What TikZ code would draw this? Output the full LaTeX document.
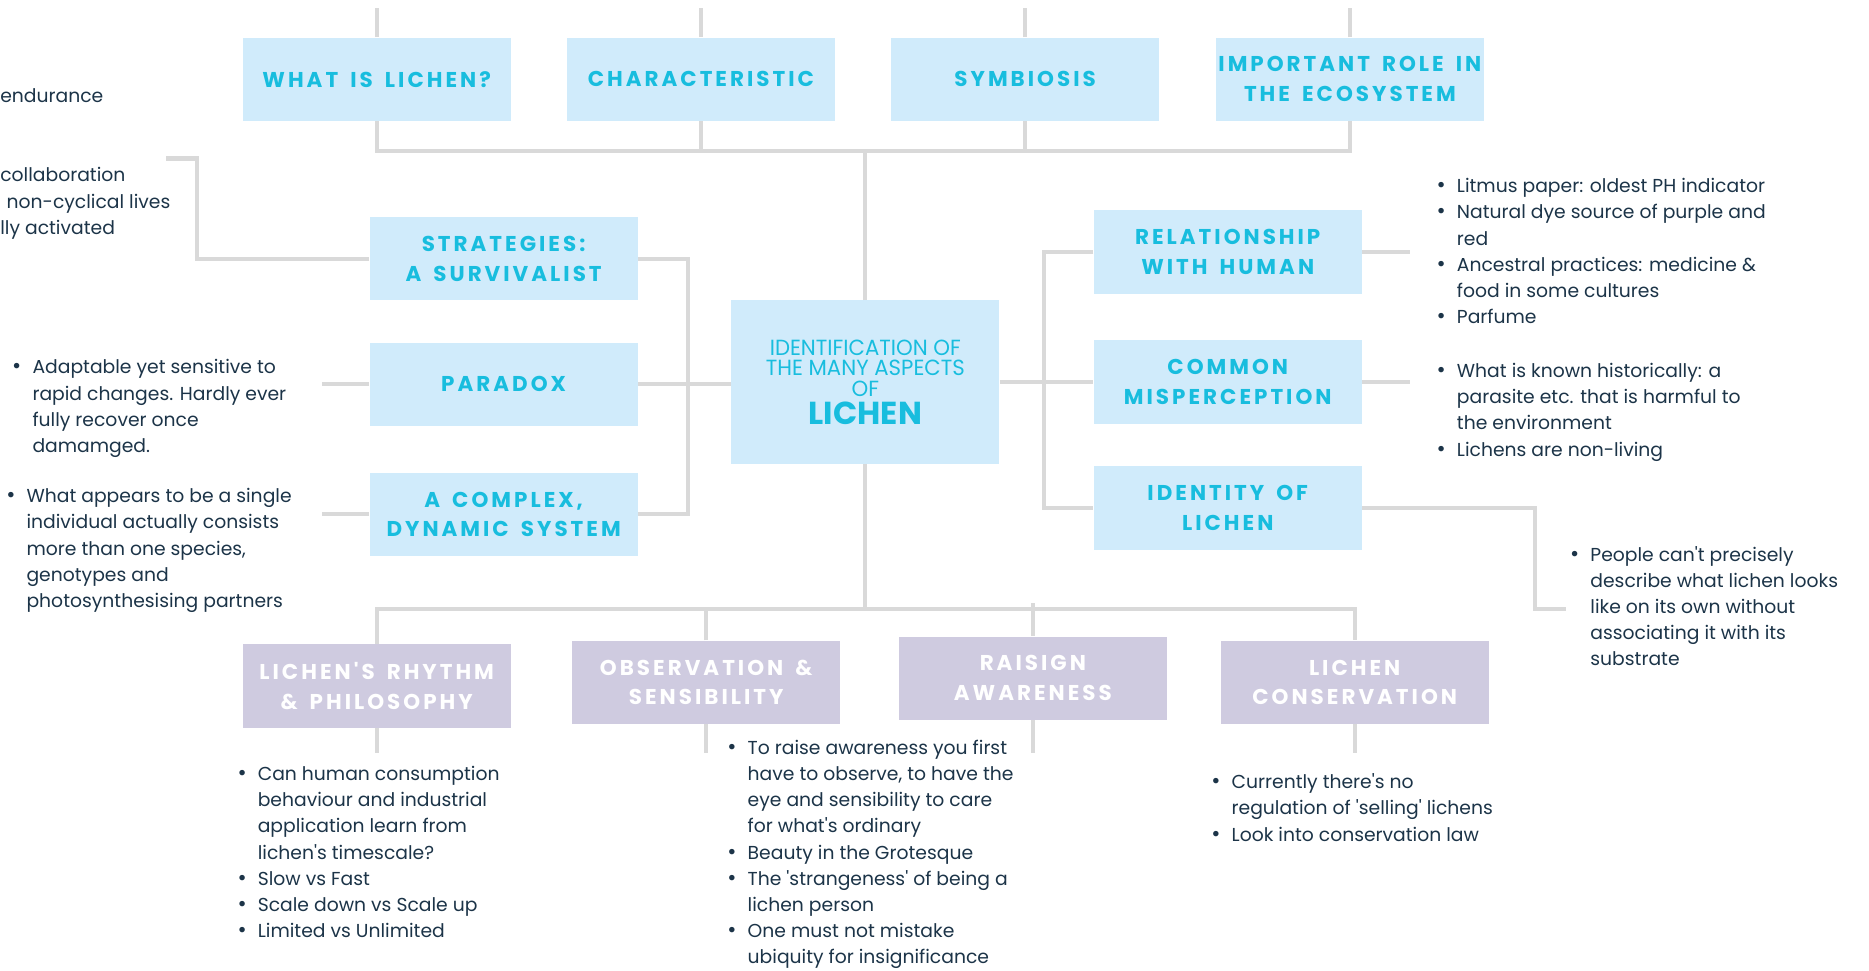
\documentclass[tikz,border=0pt]{standalone}
\usepackage{fontspec}
\newfontfamily\bodyfont{Poppins}
\newfontfamily\headfont{Poppins}[LetterSpace=14,WordSpace=1.6]
\newfontfamily\thinfont{Poppins}[FakeStretch=0.97]
\newcommand{\dotmark}{{\fontsize{14}{0}\selectfont\textbullet}}
\definecolor{boxblue}{RGB}{208,235,251}
\definecolor{boxlilac}{RGB}{207,203,224}
\definecolor{headcyan}{RGB}{24,189,222}
\definecolor{linegray}{RGB}{217,217,217}
\definecolor{notetext}{RGB}{28,52,72}

\begin{document}
\begin{tikzpicture}[x=0.75pt,y=-0.75pt,
    link/.style={draw=linegray,line width=2.6pt},
    topic/.style={minimum width=168.75pt,minimum height=52.5pt,inner sep=0pt,align=center,
      font=\headfont\bfseries\fontsize{13.5}{18.75}\selectfont},
    bluebox/.style={topic,fill=boxblue,text=headcyan},
    lilacbox/.style={topic,fill=boxlilac,text=white},
    note/.style={anchor=north west,inner sep=0pt,text=notetext,align=left,
      font=\bodyfont\fontsize{11.8}{16.5}\selectfont}]
    \useasboundingbox (0,0) rectangle (1568,814);
    \clip (0,0) rectangle (1568,814);

    \node[bluebox] (what) at (316,66.5) {WHAT IS LICHEN?};
    \node[bluebox] (charac) at (588,66.5) {CHARACTERISTIC};
    \node[bluebox] (symb) at (860,66.5) {SYMBIOSIS};
    \node[bluebox] (role) at (1132.5,66.5) {IMPORTANT ROLE IN\\THE ECOSYSTEM};

    \node[bluebox] (strat) at (422.5,217) {STRATEGIES:\\A SURVIVALIST};
    \node[bluebox] (paradox) at (422.5,322.5) {PARADOX};
    \node[bluebox] (complex) at (422.5,431.5) {A COMPLEX,\\DYNAMIC SYSTEM};

    \node[bluebox,minimum height=102.75pt,font=\thinfont\fontsize{13.8}{13}\selectfont] (core) at (726,320.5)
        {IDENTIFICATION OF\\THE MANY ASPECTS\\OF\\[2pt]{\bodyfont\bfseries\fontsize{20}{20}\selectfont LICHEN}};

    \node[bluebox] (relation) at (1030,211.5) {RELATIONSHIP\\WITH HUMAN};
    \node[bluebox] (common) at (1030,320.5) {COMMON\\MISPERCEPTION};
    \node[bluebox] (identity) at (1030,426) {IDENTITY OF\\LICHEN};

    \node[lilacbox] (rhythm) at (316,575.5) {LICHEN'S RHYTHM\\\& PHILOSOPHY};
    \node[lilacbox] (observ) at (592.5,572.5) {OBSERVATION \&\\SENSIBILITY};
    \node[lilacbox] (raise) at (866.5,569) {RAISIGN\\AWARENESS};
    \node[lilacbox] (conserv) at (1136.5,572.5) {LICHEN\\CONSERVATION};

    \coordinate (topedge) at (0,7);
    \coordinate (topbar) at (727,127);
    \coordinate (botbar) at (727,511);
    \coordinate (lbar) at (577,0);
    \coordinate (rbar) at (876,0);

    \draw[link] (what.north) -- (what.north |- topedge);
    \draw[link] (charac.north) -- (charac.north |- topedge);
    \draw[link] (symb.north) -- (symb.north |- topedge);
    \draw[link] (role.north) -- (role.north |- topedge);
    \draw[link] (what.south) -- (what.south |- topbar) -- (role.south |- topbar) -- (role.south);
    \draw[link] (charac.south) -- (charac.south |- topbar);
    \draw[link] (symb.south) -- (symb.south |- topbar);
    \draw[link] (core.north) -- (core.north |- topbar);

    \draw[link] (strat.east) -- (strat.east -| lbar) -- (complex.east -| lbar) -- (complex.east);
    \draw[link] (paradox.east) -- (paradox.east -| core.west);
    \draw[link] (relation.west) -- (relation.west -| rbar) -- (identity.west -| rbar) -- (identity.west);
    \draw[link] (core.east) -- (core.east -| common.west);

    \draw[link] (core.south) -- (core.south |- botbar);
    \draw[link] (rhythm.north) -- (rhythm.north |- botbar) -- (conserv.north |- botbar) -- (conserv.north);
    \draw[link] (observ.north) -- (observ.north |- botbar);
    \coordinate (raisetop) at (866.5,506);
    \draw[link] (raise.north) -- (raisetop);

    \coordinate (survend) at (139,133);
    \coordinate (survbend) at (165,133);
    \coordinate (parend) at (270,0);
    \coordinate (sideend) at (1183,0);
    \coordinate (idbend) at (1288,511);
    \coordinate (idend) at (1314,511);
    \coordinate (stubend) at (0,632);

    \draw[link] (strat.west) -| (survbend) -- (survend);
    \draw[link] (paradox.west) -- (paradox.west -| parend);
    \draw[link] (complex.west) -- (complex.west -| parend);
    \draw[link] (relation.east) -- (relation.east -| sideend);
    \draw[link] (common.east) -- (common.east -| sideend);
    \draw[link] (identity.east) -| (idbend) -- (idend);
    \draw[link] (rhythm.south) -- (rhythm.south |- stubend);
    \draw[link] (observ.south) -- (observ.south |- stubend);
    \draw[link] (raise.south) -- (raise.south |- stubend);
    \draw[link] (conserv.south) -- (conserv.south |- stubend);

    \node[note] (endnote) at (0,70) {\begin{tabular}{@{}l@{}}endurance\end{tabular}};
    \node[note] (survnote) at (0,137) {\begin{tabular}{@{}l@{}}
        collaboration\\
        \hspace{4pt}non-cyclical lives\\
        lly activated
        \end{tabular}};

    \node[note] (parnote) at (10,298) {\begin{tabular}{@{}l@{\hspace{7pt}}l@{}}
        \dotmark & Adaptable yet sensitive to\\
         & rapid changes. Hardly ever\\
         & fully recover once\\
         & damamged.
        \end{tabular}};
    \node[note] (cplxnote) at (5,406) {\begin{tabular}{@{}l@{\hspace{7pt}}l@{}}
        \dotmark & What appears to be a single\\
         & individual actually consists\\
         & more than one species,\\
         & genotypes and\\
         & photosynthesising partners
        \end{tabular}};

    \node[note] (relnote) at (1205,146) {\begin{tabular}{@{}l@{\hspace{7pt}}l@{}}
        \dotmark & Litmus paper: oldest PH indicator\\
        \dotmark & Natural dye source of purple and\\
         & red\\
        \dotmark & Ancestral practices: medicine \&\\
         & food in some cultures\\
        \dotmark & Parfume
        \end{tabular}};
    \node[note] (comnote) at (1205,301) {\begin{tabular}{@{}l@{\hspace{7pt}}l@{}}
        \dotmark & What is known historically: a\\
         & parasite etc. that is harmful to\\
         & the environment\\
        \dotmark & Lichens are non-living
        \end{tabular}};
    \node[note] (idnote) at (1317,455) {\begin{tabular}{@{}l@{\hspace{7pt}}l@{}}
        \dotmark & People can't precisely\\
         & describe what lichen looks\\
         & like on its own without\\
         & associating it with its\\
         & substrate
        \end{tabular}};

    \node[note] (rhynote) at (199,639) {\begin{tabular}{@{}l@{\hspace{7pt}}l@{}}
        \dotmark & Can human consumption\\
         & behaviour and industrial\\
         & application learn from\\
         & lichen's timescale?\\
        \dotmark & Slow vs Fast\\
        \dotmark & Scale down vs Scale up\\
        \dotmark & Limited vs Unlimited
        \end{tabular}};
    \node[note] (obsnote) at (610,617) {\begin{tabular}{@{}l@{\hspace{7pt}}l@{}}
        \dotmark & To raise awareness you first\\
         & have to observe, to have the\\
         & eye and sensibility to care\\
         & for what's ordinary\\
        \dotmark & Beauty in the Grotesque\\
        \dotmark & The 'strangeness' of being a\\
         & lichen person\\
        \dotmark & One must not mistake\\
         & ubiquity for insignificance
        \end{tabular}};
    \node[note] (consnote) at (1016,646) {\begin{tabular}{@{}l@{\hspace{7pt}}l@{}}
        \dotmark & Currently there's no\\
         & regulation of 'selling' lichens\\
        \dotmark & Look into conservation law
        \end{tabular}};
\end{tikzpicture}
\end{document}
